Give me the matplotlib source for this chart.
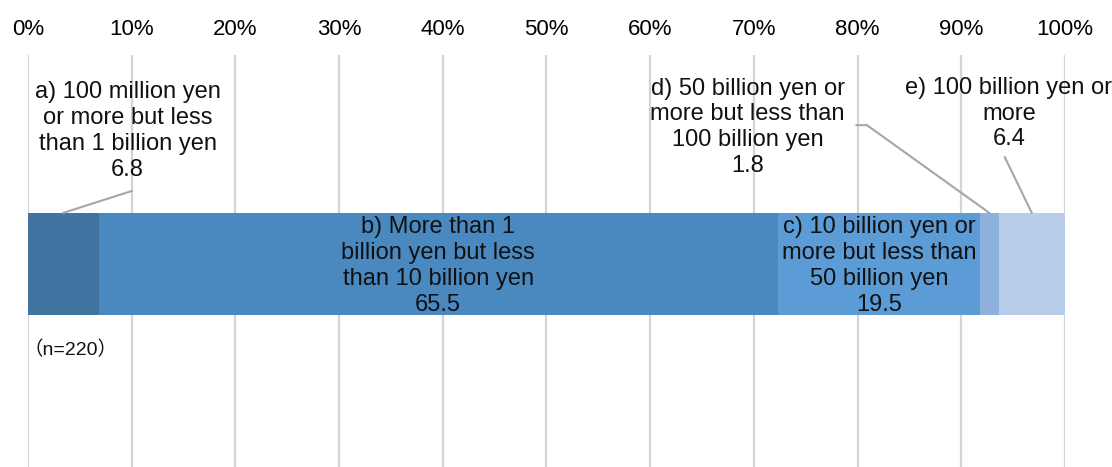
import numpy as np
import matplotlib.pyplot as plt

plt.rcParams['font.family'] = ['Liberation Sans', 'Noto Sans CJK JP', 'DejaVu Sans']

labels = [
    "a) 100 million yen\nor more but less\nthan 1 billion yen",
    "b) More than 1\nbillion yen but less\nthan 10 billion yen",
    "c) 10 billion yen or\nmore but less than\n50 billion yen",
    "d) 50 billion yen or\nmore but less than\n100 billion yen",
    "e) 100 billion yen or\nmore",
]
shares = [6.8, 65.5, 19.5, 1.8, 6.4]
colors = ["#4173a0", "#4a88c0", "#5b9bd6", "#8db0dd", "#b8cdea"]
tick_vals = np.arange(0, 101, 10)
tick_labels = [f"{v}%" for v in tick_vals]
sample_note = "（n=220）"

fig = plt.figure(figsize=(11.12, 4.67), dpi=100)
ax = fig.add_axes([0.0252, 0.0, 0.9325, 0.882])
ax.set_xlim(0, 100)
ax.set_ylim(0, 1)

bar_y, bar_h = 0.493, 0.248
bar_top = bar_y + bar_h / 2
lefts = np.concatenate([[0], np.cumsum(shares)[:-1]])
ax.barh([bar_y] * len(shares), shares, left=lefts, height=bar_h,
        color=colors, edgecolor="none", zorder=2)

ax.set_xticks(tick_vals)
ax.set_xticklabels(tick_labels, fontsize=16)
ax.xaxis.tick_top()
ax.tick_params(axis="x", length=0, pad=11)
ax.set_yticks([])
for s in ax.spines.values():
    s.set_visible(False)
ax.grid(axis="x", color="#d4d4d4", lw=1.6, zorder=0)

centers = lefts + np.array(shares) / 2
fs = 17
ls = 1.22

# labels inside the two wide segments
for i in (1, 2):
    ax.text(centers[i], bar_y - 0.005, f"{labels[i]}\n{shares[i]}", ha="center", va="center",
            fontsize=fs, linespacing=ls, color="#111111", zorder=3)

# outside labels with leader lines
outside = {
    0: dict(pos=(9.6, 0.816), leader=[(10.0, 0.670)]),
    3: dict(pos=(69.4, 0.825), leader=[(80.9, 0.830), (79.9, 0.830)]),
    4: dict(pos=(94.6, 0.858), leader=[(94.2, 0.752)]),
}
for i, o in outside.items():
    ax.text(*o["pos"], f"{labels[i]}\n{shares[i]}", ha="center", va="center",
            fontsize=fs, linespacing=ls, color="#111111", zorder=3)
    xs = [centers[i]] + [p[0] for p in o["leader"]]
    ys = [bar_top] + [p[1] for p in o["leader"]]
    ax.plot(xs, ys, color="#a6a6a6", lw=1.5, zorder=3)

ax.text(-0.4, 0.284, sample_note, ha="left", va="center", fontsize=14, color="#111111")

fig.savefig("out.png", dpi=100)
